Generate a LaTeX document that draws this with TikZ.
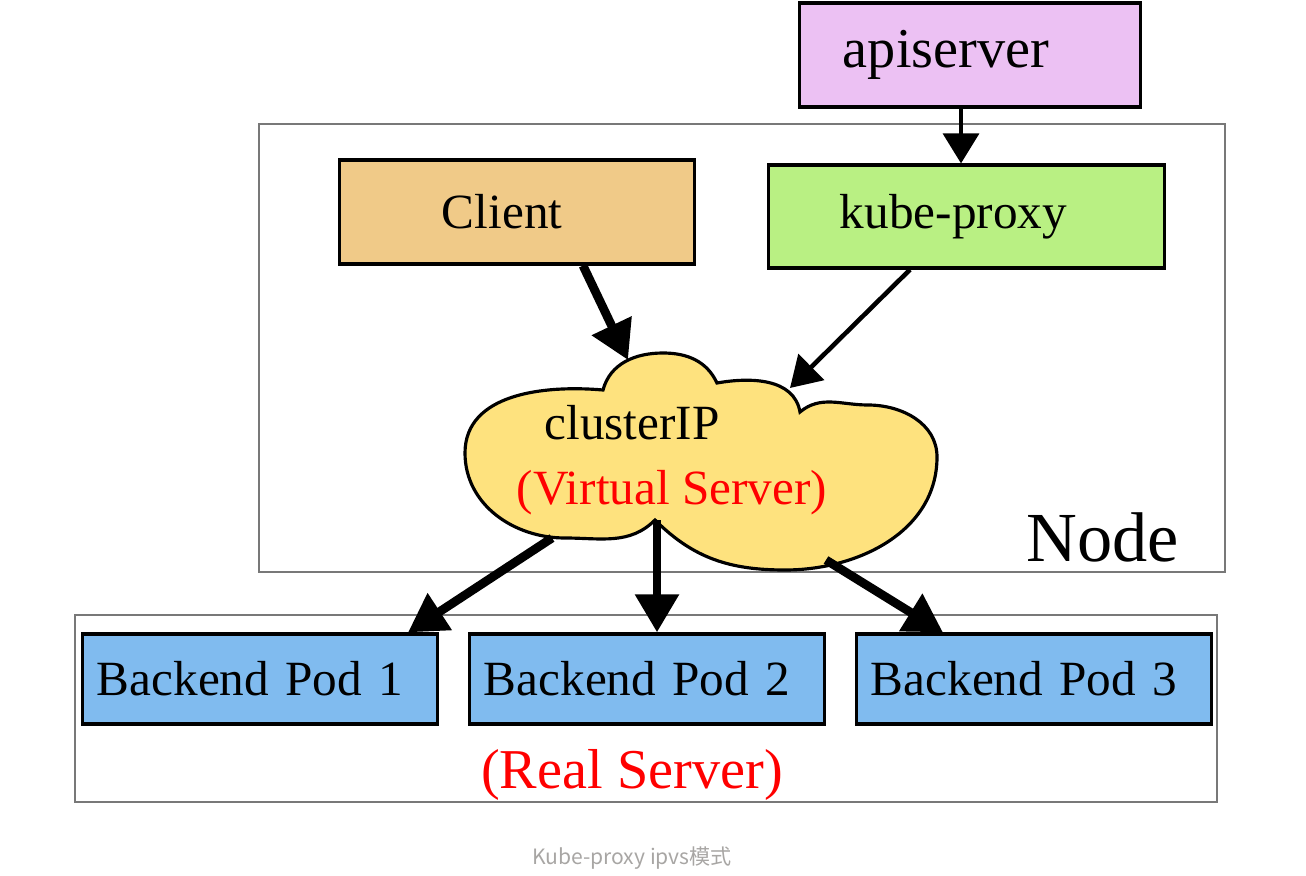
\documentclass[tikz,border=0pt]{standalone}
\usepackage{fontspec}
\setmainfont{Liberation Serif}
\newfontfamily\cjkfont{Noto Sans CJK SC}
\usepackage{xcolor}
\usetikzlibrary{arrows.meta}

\definecolor{apiviolet}{RGB}{236,193,243}
\definecolor{clienttan}{RGB}{240,202,136}
\definecolor{proxygreen}{RGB}{185,240,131}
\definecolor{cloudyellow}{RGB}{254,226,126}
\definecolor{podblue}{RGB}{128,187,239}
\definecolor{framegray}{RGB}{120,120,120}
\definecolor{captiongray}{RGB}{168,166,164}

\begin{document}
\begin{tikzpicture}[x=0.01cm, y=0.01cm,
  box/.style={draw=black, line width=0.9pt, align=left, font=\fontsize{14}{16}\selectfont},
  frame/.style={draw=framegray, line width=0.6pt},
  thinarrow/.style={line width=1pt, -{Triangle[width=0.36cm, length=0.3cm]}},
  thickarrow/.style={line width=2.5pt, -{Triangle[width=0.42cm, length=0.38cm]}}]
\useasboundingbox (0,0) rectangle (1306,875);

\draw[frame] (259,303) rectangle (1225,751); % Node frame
\draw[frame] (75,73) rectangle (1217,260); % Real Server frame
\node[font=\fontsize{20}{24}\selectfont] (nodelbl) at (1103,338) {Node};
\node[text=red, font=\fontsize{16}{19}\selectfont] (rslbl) at (632,100) {(Real Server)};

\node[box, fill=apiviolet, font=\fontsize{16}{19}\selectfont, text width=2.54cm, inner xsep=0.43cm, minimum height=1.04cm] (api) at (970,820) {apiserver};
\node[box, fill=clienttan, text width=1.50cm, inner xsep=1.02cm, minimum height=1.04cm] (client) at (517,663) {Client};
\node[box, fill=proxygreen, text width=2.53cm, inner xsep=0.71cm, minimum height=1.03cm] (proxy) at (966.5,658.5) {kube-proxy};

% cloud (virtual server)
\draw[black, line width=0.9pt, fill=cloudyellow] (603,485) to[out=75,in=180] (663,522)
  to[out=0,in=115] (717,492) to[out=10,in=100] (800,463)
  to[out=40,in=180] (868,470) to[out=0,in=90] (937,418)
  to[out=270,in=0] (785,305) to[out=180,in=-45] (655,355)
  to[out=225,in=0] (565,337) to[out=180,in=270] (465,422)
  to[out=90,in=175] cycle;
\node[font=\fontsize{14}{16}\selectfont] (cip) at (632,452) {clusterIP};
\node[text=red, font=\fontsize{14}{16}\selectfont] (vs) at (672,382) {(Virtual Server)};
\coordinate (vsin1) at (628,515);
\coordinate (vsin2) at (790,487);
\coordinate (vsout1) at (552,337);
\coordinate (vsout2) at (657,355);
\coordinate (vsout3) at (826,315);

\foreach \i/\x in {1/260,2/647,3/1034}{
  \node[box, fill=podblue, text width=3.26cm, inner xsep=0.14cm, minimum height=0.9cm] (pod\i) at (\x,196) {Backend Pod \i};
}

\draw[thinarrow] (api.south -| 961,0) -- (proxy.north -| 961,0); % apiserver to kube-proxy
\draw[thickarrow] (client.south -| 583,0) -- (vsin1); % client to clusterIP
\draw[thinarrow, line width=1.3pt] (proxy.south -| 910,0) -- (vsin2); % kube-proxy to clusterIP
\draw[thickarrow] (vsout1) -- (pod1.north -| 408,0);
\draw[thickarrow] (vsout2) -- (pod2.north -| 657,0);
\draw[thickarrow] (vsout3) -- (pod3.north -| 943,0);

\node[text=captiongray, font=\cjkfont\fontsize{6}{7}\selectfont] (caption) at (632,17) {Kube-proxy ipvs模式};
\end{tikzpicture}
\end{document}
